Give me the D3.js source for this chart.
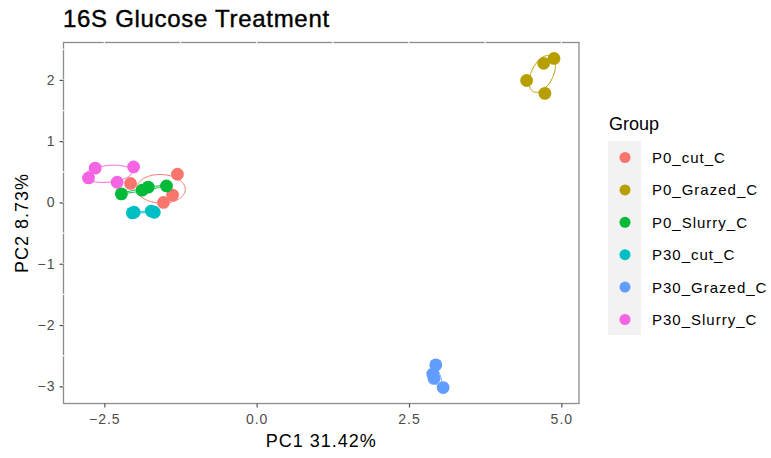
<!DOCTYPE html>
<html>
<head>
<meta charset="utf-8">
<script src="https://cdn.jsdelivr.net/npm/d3@7"></script>
<style>
  body { margin: 0; background: #fff; }
  text { font-family: "Liberation Sans", Arial, sans-serif; }
</style>
</head>
<body>
<div id="chart"></div>
<script>
// PCA scores per sample, grouped by treatment
const groups = ["P0_cut_C", "P0_Grazed_C", "P0_Slurry_C", "P30_cut_C", "P30_Grazed_C", "P30_Slurry_C"];
const groupColors = ["#F8766D", "#B79F00", "#00BA38", "#00BFC4", "#619CFF", "#F564E3"];

const pc1 = {
  "P0_cut_C":     [-2.07, -1.30, -1.38, -1.53],
  "P0_Grazed_C":  [4.43, 4.71, 4.88, 4.73],
  "P0_Slurry_C":  [-2.22, -1.88, -1.78, -1.48],
  "P30_cut_C":    [-2.04, -2.01, -1.73, -1.68],
  "P30_Grazed_C": [2.94, 2.89, 2.91, 3.06],
  "P30_Slurry_C": [-2.65, -2.76, -2.02, -2.29]
};
const pc2 = {
  "P0_cut_C":     [0.31, 0.46, 0.12, 0.00],
  "P0_Grazed_C":  [1.99, 2.27, 2.35, 1.78],
  "P0_Slurry_C":  [0.14, 0.20, 0.25, 0.27],
  "P30_cut_C":    [-0.17, -0.16, -0.14, -0.16],
  "P30_Grazed_C": [-2.65, -2.80, -2.87, -3.02],
  "P30_Slurry_C": [0.56, 0.40, 0.58, 0.33]
};

const xTicks = [-2.5, 0, 2.5, 5];
const yTicks = [-3, -2, -1, 0, 1, 2];
const xMinor = [-1.25, 1.25, 3.75];
const yMinor = [-2.5, -1.5, -0.5, 0.5, 1.5, 2.5];

const W = 771, H = 458;
const panel = { left: 63.5, right: 579, top: 42.5, bottom: 403.5 };

const svg = d3.select("#chart").append("svg")
  .attr("width", W).attr("height", H);

const x = d3.scaleLinear().domain([-3.17, 5.29]).range([panel.left, panel.right]);
const y = d3.scaleLinear().domain([-3.28, 2.61]).range([panel.bottom, panel.top]);

// panel border then white grid (leaves small gaps in the border like the original)
svg.append("rect")
  .attr("x", panel.left).attr("y", panel.top)
  .attr("width", panel.right - panel.left).attr("height", panel.bottom - panel.top)
  .attr("fill", "#fff").attr("stroke", "#8c8c8c").attr("stroke-width", 1.3);

const grid = svg.append("g").attr("stroke", "#fff");
grid.selectAll(".gx").data(xTicks.concat(xMinor)).enter().append("line")
  .attr("x1", d => x(d)).attr("x2", d => x(d))
  .attr("y1", panel.top - 1).attr("y2", panel.top + 1)
  .attr("stroke-width", 1.2);
grid.selectAll(".gy").data(yTicks.concat(yMinor)).enter().append("line")
  .attr("y1", d => y(d)).attr("y2", d => y(d))
  .attr("x1", panel.left - 1).attr("x2", panel.left + 1)
  .attr("stroke-width", 1.2);

// axes
const xAxis = svg.append("g")
  .attr("transform", "translate(0," + panel.bottom + ")")
  .call(d3.axisBottom(x).tickValues(xTicks).tickFormat(d3.format(".1f")).tickSize(4).tickPadding(4));
const yAxis = svg.append("g")
  .attr("transform", "translate(" + panel.left + ",0)")
  .call(d3.axisLeft(y).tickValues(yTicks).tickFormat(d3.format("d")).tickSize(4).tickPadding(4));
[xAxis, yAxis].forEach(a => {
  a.select(".domain").remove();
  a.selectAll(".tick line").attr("stroke", "#555").attr("stroke-width", 1.2);
  a.selectAll(".tick text")
    .attr("fill", "#4d4d4d")
    .style("font-size", "14px")
    .style("letter-spacing", "1px")
    .style("font-family", "'Liberation Sans', Arial, sans-serif");
});
xAxis.selectAll(".tick text").attr("dy", "0.9em");

// ellipses (covariance based) and points
const ellipseLine = d3.line().x(d => x(d[0])).y(d => y(d[1]));
function ellipse(xs, ys, k) {
  const n = xs.length;
  const mx = d3.mean(xs), my = d3.mean(ys);
  let sxx = 0, syy = 0, sxy = 0;
  for (let i = 0; i < n; i++) {
    sxx += (xs[i] - mx) ** 2;
    syy += (ys[i] - my) ** 2;
    sxy += (xs[i] - mx) * (ys[i] - my);
  }
  sxx /= n - 1; syy /= n - 1; sxy /= n - 1;
  const tr = sxx + syy, det = sxx * syy - sxy * sxy;
  const l1 = tr / 2 + Math.sqrt(tr * tr / 4 - det);
  const l2 = Math.max(tr / 2 - Math.sqrt(tr * tr / 4 - det), 0);
  const ang = Math.atan2(l1 - sxx, sxy || 1e-12);
  const pts = [];
  for (let t = 0; t <= 100; t++) {
    const a = t / 100 * 2 * Math.PI;
    const u = k * Math.sqrt(l1) * Math.cos(a), v = k * Math.sqrt(l2) * Math.sin(a);
    pts.push([mx + u * Math.cos(ang) - v * Math.sin(ang), my + u * Math.sin(ang) + v * Math.cos(ang)]);
  }
  return pts;
}

const plot = svg.append("g");
groups.forEach((g, gi) => {
  plot.append("path")
    .attr("d", ellipseLine(ellipse(pc1[g], pc2[g], 1.15)))
    .attr("fill", "none")
    .attr("stroke", groupColors[gi])
    .attr("stroke-width", 1);
});
groups.forEach((g, gi) => {
  plot.selectAll(null).data(pc1[g]).enter().append("circle")
    .attr("cx", d => x(d))
    .attr("cy", (d, i) => y(pc2[g][i]))
    .attr("r", 6.4)
    .attr("fill", groupColors[gi]);
});

// titles
svg.append("text").attr("x", 63).attr("y", 27)
  .style("font-size", "24px").style("letter-spacing", "0.7px")
  .style("stroke", "#000").style("stroke-width", 0.4).attr("fill", "#000")
  .text("16S Glucose Treatment");
svg.append("text").attr("x", (panel.left + panel.right) / 2).attr("y", 447)
  .attr("text-anchor", "middle").style("font-size", "18px").style("letter-spacing", "1px")
  .attr("fill", "#000").text("PC1 31.42%");
svg.append("text").attr("transform", "translate(28," + ((panel.top + panel.bottom) / 2) + ") rotate(-90)")
  .attr("text-anchor", "middle").style("font-size", "18px").style("letter-spacing", "1px")
  .attr("fill", "#000").text("PC2 8.73%");

// legend
const legend = svg.append("g").attr("transform", "translate(608,0)");
legend.append("text").attr("x", 1).attr("y", 130)
  .style("font-size", "18px").attr("fill", "#000").text("Group");
legend.append("rect").attr("x", 0).attr("y", 141)
  .attr("width", 33).attr("height", 194).attr("fill", "#f2f2f2");
const keyStep = 32.4;
groups.forEach((g, gi) => {
  const cy = 157.5 + gi * keyStep;
  legend.append("circle").attr("cx", 17).attr("cy", cy).attr("r", 5.5).attr("fill", groupColors[gi]);
  legend.append("text").attr("x", 44).attr("y", cy + 5.5)
    .style("font-size", "15px").style("letter-spacing", "1px")
    .attr("fill", "#000").text(g);
});
</script>
</body>
</html>
